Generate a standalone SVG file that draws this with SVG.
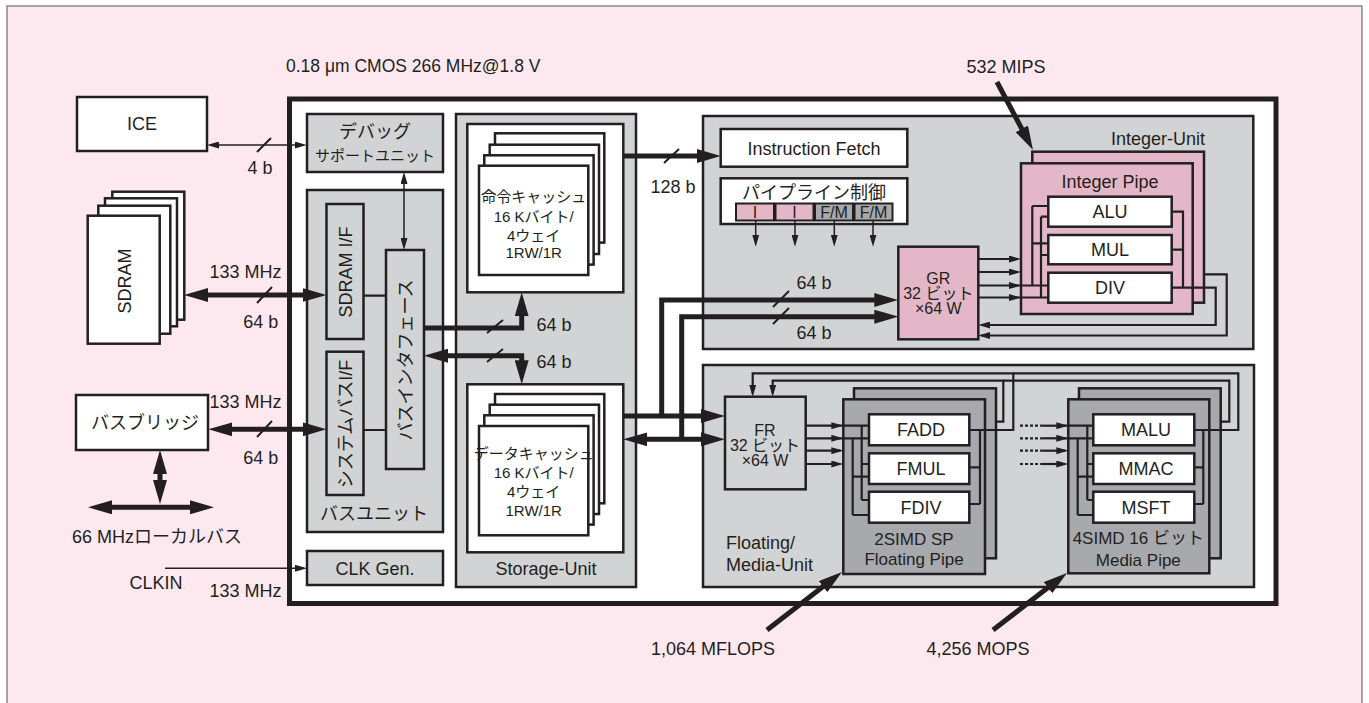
<svg xmlns="http://www.w3.org/2000/svg" width="1369" height="703" viewBox="0 0 1369 703">
<style>
.b{stroke:#231f20;stroke-width:2.5}
.g{fill:#d1d3d4}
.dg{fill:#a7a9ac}
.pk{fill:#e3b7c7}
.w{fill:#fff}
text{font-family:"Liberation Sans","Noto Sans CJK JP",sans-serif;font-size:18px;fill:#231f20}
.m{text-anchor:middle}
.s15{font-size:15px}
.s16{font-size:16px}
.s17{font-size:17px}
.thick{stroke:#231f20;stroke-width:5;fill:none}
.thin{stroke:#231f20;stroke-width:1.5;fill:none}
.wire{stroke:#231f20;stroke-width:2.2;fill:none}
.sl{stroke:#231f20;stroke-width:2;fill:none}
.dot{stroke:#231f20;stroke-width:2.2;fill:none;stroke-dasharray:3 2}
</style>
<defs>
<marker id="ah" viewBox="0 0 24 14" refX="12" refY="7" markerWidth="24" markerHeight="14" markerUnits="userSpaceOnUse" orient="auto-start-reverse"><path d="M0,0L24,7L0,14z" fill="#231f20"/></marker>
<marker id="aw" viewBox="0 0 12 7" refX="9" refY="3.5" markerWidth="12" markerHeight="7" markerUnits="userSpaceOnUse" orient="auto-start-reverse"><path d="M0,0L12,3.5L0,7z" fill="#231f20"/></marker>
</defs>
<rect x="0" y="0" width="1369" height="703" fill="#fff"/>
<rect x="7" y="6" width="1355" height="710" fill="#fde8f0" stroke="#6d6e71" stroke-width="1.2"/>
<text x="286" y="72" style="font-size:17.5px">0.18 μm CMOS 266 MHz@1.8 V</text>
<g id="chip"><rect x="289.5" y="99" width="986.5" height="504.5" fill="#fff" stroke="#231f20" stroke-width="5"/></g>
<g id="ice"><rect class="b w" x="77" y="97" width="130" height="54"/><text class="m" x="142" y="130">ICE</text></g>
<g id="sdram">
<rect class="b w" x="112.3" y="191.7" width="72" height="128"/>
<rect class="b w" x="105" y="198.3" width="72" height="128"/>
<rect class="b w" x="98.3" y="205.7" width="72" height="128"/>
<rect class="b w" x="87.7" y="215.7" width="72" height="128"/>
<text class="m" transform="translate(124,281) rotate(-90)" x="0" y="6.5">SDRAM</text>
</g>
<g id="bridge"><rect class="b w" x="76" y="395" width="132" height="55"/><text class="m" x="145" y="429">バスブリッジ</text></g>
<g id="debug"><rect class="b g" x="307" y="114" width="136" height="58"/><text class="m" x="375" y="138">デバッグ</text><text class="m s15" x="375" y="160.5">サポートユニット</text></g>
<g id="busunit">
<rect class="b g" x="307" y="190" width="136" height="342"/>
<rect class="b g" x="326.5" y="204" width="37" height="135"/>
<text class="m" transform="translate(345,272) rotate(-90)" x="0" y="6.5">SDRAM I/F</text>
<rect class="b g" x="326.5" y="351.7" width="37" height="143.3"/>
<text class="m" transform="translate(345,424) rotate(-90)" x="0" y="6.5">システムバスI/F</text>
<rect class="b g" x="386" y="250" width="38" height="219"/>
<text class="m" transform="translate(405,360) rotate(-90)" x="0" y="6.5">バスインタフェース</text>
<path class="wire" d="M363.5,295.7H386M363.5,430H386"/>
<text class="m" x="374" y="520">バスユニット</text>
</g>
<g id="clkgen"><rect class="b g" x="307" y="551" width="136" height="34"/><text class="m" x="375" y="574.5">CLK Gen.</text></g>
<g id="storage">
<rect class="b g" x="456" y="114" width="180" height="473"/>
<text class="m" x="546" y="575">Storage-Unit</text>
</g>
<g id="icache">
<rect class="b w" x="467.3" y="124" width="156" height="168.3"/>
<rect class="b w" x="495" y="133.3" width="109.3" height="109.3"/>
<rect class="b w" x="489.7" y="144.7" width="109.3" height="109.3"/>
<rect class="b w" x="484.3" y="155.3" width="109.3" height="109.3"/>
<rect class="b w" x="479" y="165.7" width="109.3" height="109.3"/>
<text class="m s15" x="533.7" y="202">命令キャッシュ</text>
<text class="m s15" x="533.7" y="221.5">16 Kバイト/</text>
<text class="m s15" x="533.7" y="240.5">4ウェイ</text>
<text class="m s15" x="533.7" y="258">1RW/1R</text>
</g>
<g id="dcache">
<rect class="b w" x="467.3" y="384.3" width="156" height="168"/>
<rect class="b w" x="495" y="394" width="109.3" height="109.3"/>
<rect class="b w" x="489.7" y="404.7" width="109.3" height="109.3"/>
<rect class="b w" x="484.3" y="415.3" width="109.3" height="109.3"/>
<rect class="b w" x="479" y="426" width="109.3" height="109.3"/>
<text class="m s15" x="533.7" y="459">データキャッシュ</text>
<text class="m s15" x="533.7" y="478">16 Kバイト/</text>
<text class="m s15" x="533.7" y="497">4ウェイ</text>
<text class="m s15" x="533.7" y="515.5">1RW/1R</text>
</g>
<g id="integer-unit">
<rect class="b g" x="703" y="116" width="550.3" height="233"/>
<text x="1205" y="144.5" text-anchor="end">Integer-Unit</text>
</g>
<g id="ifetch"><rect class="b w" x="720.7" y="129" width="186.6" height="37.7"/><text class="m" x="814" y="154.5">Instruction Fetch</text></g>
<g id="pipectl">
<rect class="b w" x="720.7" y="178.3" width="186.6" height="45.7"/>
<text class="m" x="814" y="198.5">パイプライン制御</text>
<rect class="pk" x="736" y="203.5" width="38" height="17" stroke="#231f20" stroke-width="2"/>
<rect class="pk" x="775.5" y="203.5" width="38" height="17" stroke="#231f20" stroke-width="2"/>
<rect class="dg" x="815" y="203.5" width="38" height="17" stroke="#231f20" stroke-width="2"/>
<rect class="dg" x="854.5" y="203.5" width="38" height="17" stroke="#231f20" stroke-width="2"/>
<text class="m s16" x="755" y="218">I</text>
<text class="m s16" x="794.5" y="218">I</text>
<text class="m s16" x="834" y="218">F/M</text>
<text class="m s16" x="873.5" y="218">F/M</text>
</g>
<g id="gr">
<rect class="b pk" x="898.3" y="246.7" width="80" height="92.6"/>
<text class="m s16" x="938.3" y="284">GR</text>
<text class="m s16" x="938.3" y="299">32 ビット</text>
<text class="m s16" x="938.3" y="314">×64 W</text>
</g>
<g id="intpipe">
<rect class="b pk" x="1032.3" y="151.7" width="171.7" height="151"/>
<rect class="b pk" x="1021" y="163.3" width="171.7" height="150.7"/>
<text class="m" x="1110" y="187.5">Integer Pipe</text>
<rect class="b w" x="1048.3" y="196.7" width="123.4" height="30"/>
<rect class="b w" x="1048.3" y="235" width="123.4" height="29.3"/>
<rect class="b w" x="1048.3" y="272.7" width="123.4" height="30"/>
<text class="m" x="1110" y="218">ALU</text>
<text class="m" x="1110" y="256">MUL</text>
<text class="m" x="1110" y="294">DIV</text>
</g>
<g id="fm-unit">
<rect class="b g" x="703" y="365" width="551" height="222"/>
<text x="726" y="549">Floating/</text>
<text x="726" y="571">Media-Unit</text>
</g>
<g id="fr">
<rect class="b g" x="725" y="396.7" width="80.7" height="92.6"/>
<text class="m s16" x="765" y="435.5">FR</text>
<text class="m s16" x="765" y="451">32 ビット</text>
<text class="m s16" x="765" y="466">×64 W</text>
</g>
<g id="fpipe">
<rect class="b dg" x="854" y="388.3" width="142" height="170"/>
<rect class="b dg" x="843.3" y="399.3" width="141.7" height="174.7"/>
<rect class="b w" x="869" y="414.3" width="100.3" height="31"/>
<rect class="b w" x="869" y="453.3" width="100.3" height="30.7"/>
<rect class="b w" x="869" y="491.7" width="100.3" height="31"/>
<text class="m" x="921" y="436.3">FADD</text>
<text class="m" x="921" y="475">FMUL</text>
<text class="m" x="921" y="513.7">FDIV</text>
<text class="m s17" x="914" y="544.5">2SIMD SP</text>
<text class="m s17" x="914" y="565">Floating Pipe</text>
</g>
<g id="mpipe">
<rect class="b dg" x="1079" y="388.3" width="141.7" height="170"/>
<rect class="b dg" x="1068.3" y="399.3" width="141" height="174"/>
<rect class="b w" x="1093.3" y="414.3" width="101" height="31"/>
<rect class="b w" x="1093.3" y="453.3" width="101" height="30.7"/>
<rect class="b w" x="1093.3" y="491.7" width="101" height="31"/>
<text class="m" x="1146" y="436.3">MALU</text>
<text class="m" x="1146" y="475">MMAC</text>
<text class="m" x="1146" y="513.7">MSFT</text>
<text class="m s17" x="1138.3" y="544">4SIMD 16 ビット</text>
<text class="m s17" x="1138.3" y="566">Media Pipe</text>
</g>
<g id="labels">
<text class="m" x="260" y="174">4 b</text>
<text class="m" x="245.5" y="278">133 MHz</text>
<text class="m" x="260.7" y="328">64 b</text>
<text class="m" x="245.5" y="408">133 MHz</text>
<text class="m" x="260.7" y="464">64 b</text>
<text class="m" x="157" y="543">66 MHzローカルバス</text>
<text class="m" x="156" y="589">CLKIN</text>
<text class="m" x="245.5" y="597">133 MHz</text>
<text class="m" x="673" y="193">128 b</text>
<text class="m" x="554" y="331">64 b</text>
<text class="m" x="554" y="368">64 b</text>
<text class="m" x="814" y="289">64 b</text>
<text class="m" x="814" y="339">64 b</text>
<text class="m" x="1006" y="73">532 MIPS</text>
<text class="m" x="713" y="655">1,064 MFLOPS</text>
<text class="m" x="978" y="655">4,256 MOPS</text>
</g>
<g id="connectors">
<path class="thin" d="M210,145H303.7" marker-start="url(#aw)" marker-end="url(#aw)"/>
<path class="thin" d="M404,175V247" marker-start="url(#aw)" marker-end="url(#aw)"/>
<path class="thin" d="M165,568.3H304" marker-end="url(#aw)"/>
<path class="thick" d="M196,295H314.5" marker-start="url(#ah)" marker-end="url(#ah)"/>
<path class="thick" d="M220.3,429.3H314.5" marker-start="url(#ah)" marker-end="url(#ah)"/>
<path class="thick" d="M160,462V492" marker-start="url(#ah)" marker-end="url(#ah)"/>
<path class="thick" d="M100,507.3H202" marker-start="url(#ah)" marker-end="url(#ah)"/>
<path class="thick" d="M623.3,156H708.7" marker-end="url(#ah)"/>
<path class="thick" d="M424,328H521.7V304.3" marker-end="url(#ah)"/>
<path class="thick" d="M436,355.7H521.7V372.3" marker-start="url(#ah)" marker-end="url(#ah)"/>
<path class="thick" d="M623.3,416H713" marker-end="url(#ah)"/>
<path class="thick" d="M661.7,416V300H886.3" marker-end="url(#ah)"/>
<path class="thick" d="M635.3,439.3H713" marker-start="url(#ah)" marker-end="url(#ah)"/>
<path class="thick" d="M681.7,439.3V316.7H886.3" marker-end="url(#ah)"/>
<path class="sl" d="M257,152L271,138M257,303L272,287M257,437L272,421M664,163L679,149M487,333L503,320M487,362L503,349M773,307L789,291M773,324L789,308"/>
<path class="thin" d="M755.7,221V243.7" marker-end="url(#aw)"/>
<path class="thin" d="M795,221V243.7" marker-end="url(#aw)"/>
<path class="thin" d="M834.3,221V243.7" marker-end="url(#aw)"/>
<path class="thin" d="M873,221V243.7" marker-end="url(#aw)"/>
<path class="wire" d="M978.3,259H1018" marker-end="url(#aw)"/>
<path class="wire" d="M978.3,272H1018" marker-end="url(#aw)"/>
<path class="wire" d="M978.3,285.5H1018" marker-end="url(#aw)"/>
<path class="wire" d="M978.3,297.5H1018" marker-end="url(#aw)"/>
<path class="wire" d="M1018,285.5H1048.3M1018,297.5H1048.3M1032.3,206V285.5M1041,216.7V297.5M1032.3,206H1048.3M1041,216.7H1048.3M1032.3,243.3H1048.3M1041,255H1048.3"/>
<path class="wire" d="M1171.7,211.7H1183V287.7M1171.7,249.7H1183"/>
<path class="wire" d="M1171.7,287.7H1215.7V325H981.3" marker-end="url(#aw)"/>
<path class="wire" d="M1204,274.3H1226.7V335.5H981.3" marker-end="url(#aw)"/>
<path class="wire" d="M805.7,425.7H840.3" marker-end="url(#aw)"/>
<path class="wire" d="M805.7,438.3H840.3" marker-end="url(#aw)"/>
<path class="wire" d="M805.7,450.7H840.3" marker-end="url(#aw)"/>
<path class="wire" d="M805.7,464H840.3" marker-end="url(#aw)"/>
<path class="wire" d="M840.3,425.7H869M840.3,438.3H869M861.7,425.7V500M852.7,438.3V515M861.7,464H869M852.7,476.7H869M861.7,500H869M852.7,515H869"/>
<path class="wire" d="M969.3,467.3H980M969.3,504H980M980,430V504"/>
<path class="wire" d="M969.3,430H1013.3V373.3H752.7V393.7" marker-end="url(#aw)"/>
<path class="wire" d="M996,421.7H1003.3V380.7H772.7V393.7" marker-end="url(#aw)"/>
<path class="wire" d="M1194.3,430H1238.3V373.3H1013.3"/>
<path class="wire" d="M1220.7,421.7H1229.3V380.7H1003.3"/>
<path class="dot" d="M1020,425.7H1041.7M1020,438.3H1041.7M1020,450.7H1041.7M1020,464H1041.7"/>
<path class="wire" d="M1041.7,425.7H1065.3" marker-end="url(#aw)"/>
<path class="wire" d="M1041.7,438.3H1065.3" marker-end="url(#aw)"/>
<path class="wire" d="M1041.7,450.7H1065.3" marker-end="url(#aw)"/>
<path class="wire" d="M1041.7,464H1065.3" marker-end="url(#aw)"/>
<path class="wire" d="M1065.3,425.7H1093.3M1065.3,438.3H1093.3M1087.3,425.7V500M1077.7,438.3V515M1087.3,464H1093.3M1077.7,476.7H1093.3M1087.3,500H1093.3M1077.7,515H1093.3"/>
<path class="wire" d="M1194.3,467.3H1203.3M1194.3,504H1203.3M1203.3,430V504"/>
<path class="thick" d="M997,82L1027.4,139.4" marker-end="url(#ah)"/>
<path class="thick" d="M767,630L832.5,579.3" marker-end="url(#ah)"/>
<path class="thick" d="M993,630L1057.5,580.3" marker-end="url(#ah)"/>
</g>
</svg>
